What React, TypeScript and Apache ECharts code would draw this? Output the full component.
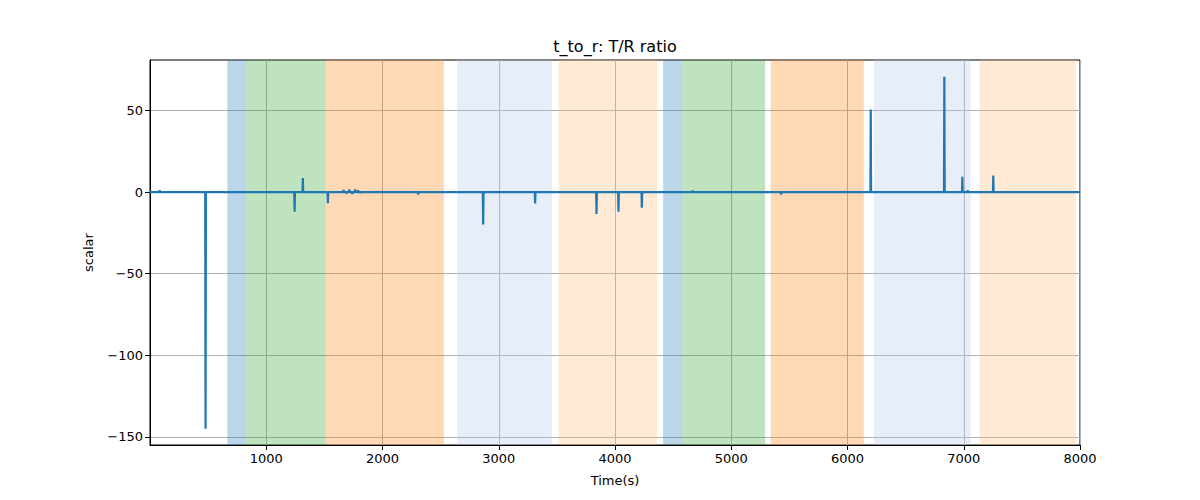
import React, { useEffect, useRef } from "react";
import * as echarts from "echarts";

const spikeX = [478, 1244, 1315, 1530, 2866, 3313, 3841, 4030, 4231, 6200, 6833, 6988, 7254];
const spikeY = [-145, -12, 8.6, -6.8, -19.8, -7, -13.4, -12, -9.5, 50.6, 70.7, 9.4, 10.2];

const bumpX = [83, 1665, 1690, 1715, 1740, 1765, 1790, 1810, 2307, 4669, 5429, 7034];
const bumpY = [1.2, 1.3, -0.9, 1.6, -1.1, 1.7, 1.2, -0.5, -1.4, 1, -1.5, 1.1];

const bandStart = [665, 825, 1510, 2643, 3514, 4414, 4580, 5340, 6228, 7137];
const bandEnd = [825, 1510, 2528, 3457, 4362, 4580, 5291, 6140, 7060, 7965];
const bandColor = [
  "rgba(31,119,180,0.3)",
  "rgba(44,160,44,0.3)",
  "rgba(255,127,14,0.3)",
  "rgba(174,199,232,0.3)",
  "rgba(255,187,120,0.3)",
  "rgba(31,119,180,0.3)",
  "rgba(44,160,44,0.3)",
  "rgba(255,127,14,0.3)",
  "rgba(174,199,232,0.3)",
  "rgba(255,187,120,0.3)",
];

const xTicks = [1000, 2000, 3000, 4000, 5000, 6000, 7000, 8000];
const yTicks = [-150, -100, -50, 0, 50];

const FONT = "DejaVu Sans";

export default function App() {
  const ref = useRef<HTMLDivElement>(null);
  useEffect(() => {
    if (!ref.current) return;
    const chart = echarts.init(ref.current, undefined, { renderer: "svg" });
    const pts: number[][] = [[0, 0], [8000, 0]];
    spikeX.forEach((x, i) => {
      pts.push([x - 3, 0], [x, spikeY[i]], [x + 3, 0]);
    });
    bumpX.forEach((x, i) => {
      pts.push([x - 4, 0], [x, bumpY[i]], [x + 4, 0]);
    });
    pts.sort((a, b) => a[0] - b[0]);

    chart.setOption({
      animation: false,
      grid: {
        left: 150,
        right: 120,
        top: 60,
        bottom: 55,
        show: true,
        borderColor: "#000",
        borderWidth: 1,
        backgroundColor: "transparent",
      },
      graphic: [
        {
          type: "text",
          x: 615,
          y: 46,
          z: 100,
          style: {
            text: "t_to_r: T/R ratio",
            fontFamily: FONT,
            fontSize: 16,
            fill: "#000",
            textAlign: "center",
            textVerticalAlign: "middle",
          },
        },
      ],
      xAxis: {
        type: "value",
        min: 0,
        max: 8000,
        interval: 1000,
        name: "Time(s)",
        nameLocation: "middle",
        nameGap: 29,
        nameTextStyle: { fontFamily: FONT, fontSize: 13, color: "#000" },
        axisLine: { show: true, onZero: false, lineStyle: { color: "#000", width: 1 } },
        axisTick: { show: true, length: 5, lineStyle: { color: "#000" }, customValues: xTicks },
        axisLabel: {
          fontFamily: FONT,
          fontSize: 13,
          color: "#000",
          margin: 7,
          customValues: xTicks,
          formatter: (v: number) => String(v),
        },
        splitLine: { show: true, lineStyle: { color: "#b0b0b0", width: 1 } },
      },
      yAxis: {
        type: "value",
        min: -155,
        max: 81,
        name: "scalar",
        nameLocation: "middle",
        nameGap: 55,
        nameTextStyle: { fontFamily: FONT, fontSize: 13, color: "#000" },
        axisLine: { show: true, onZero: false, lineStyle: { color: "#000", width: 1 } },
        axisTick: { show: true, length: 5, lineStyle: { color: "#000" }, customValues: yTicks },
        axisLabel: {
          fontFamily: FONT,
          fontSize: 13,
          color: "#000",
          margin: 7,
          customValues: yTicks,
          formatter: (v: number) => (v < 0 ? "\u2212" + Math.abs(v) : String(v)),
        },
        splitLine: { show: true, lineStyle: { color: "#b0b0b0", width: 1 } },
      },
      series: [
        {
          type: "line",
          data: pts,
          showSymbol: false,
          symbol: "none",
          lineStyle: { color: "#1f77b4", width: 2.2 },
          z: 3,
          markArea: {
            silent: true,
            data: bandStart.map((s, i) => [
              { xAxis: s, itemStyle: { color: bandColor[i] } },
              { xAxis: bandEnd[i] },
            ]),
          },
        },
      ],
    });
    return () => chart.dispose();
  }, []);
  return (
    <div
      ref={ref}
      style={{ position: "fixed", left: 0, top: 0, width: 1200, height: 500, background: "#fff" }}
    />
  );
}
